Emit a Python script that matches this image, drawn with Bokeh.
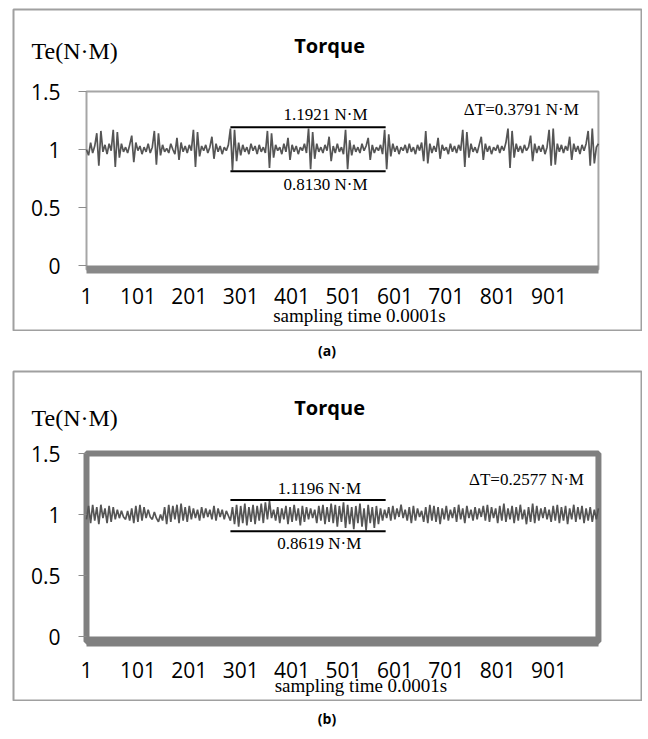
import numpy as np
from bokeh.plotting import figure
from bokeh.models import Range1d, FixedTicker, Label, Div, BoxAnnotation
from bokeh.layouts import column
from bokeh.embed import file_html
from bokeh.resources import INLINE

# ---------------- data ----------------
x_ticks = [1, 101, 201, 301, 401, 501, 601, 701, 801, 901]
x_tick_labels = ["1", "101", "201", "301", "401", "501", "601", "701", "801", "901"]
y_ticks = [0, 0.5, 1, 1.5]
y_tick_labels = ["0", "0.5", "1", "1.5"]
sample_step = 4  # one value read every 4 samples
x_first, x_last = 1, 997
y_top = 1.5

torque_a = [
    1.00, 0.95, 1.06, 0.97, 1.03, 1.14, 0.86, 1.16, 0.98, 1.04,
    0.96, 1.05, 0.99, 1.17, 0.85, 1.15, 0.93, 1.05, 0.98, 1.02,
    0.97, 1.04, 1.12, 0.89, 1.06, 0.99, 1.03, 0.96, 1.02, 0.98,
    1.05, 0.97, 1.02, 1.16, 0.87, 1.14, 0.95, 1.04, 0.98, 1.01,
    0.97, 1.05, 1.00, 0.96, 1.10, 0.91, 1.06, 0.98, 1.03, 0.97,
    1.04, 0.99, 1.17, 0.85, 1.15, 0.94, 1.03, 0.99, 1.04, 0.97,
    1.02, 1.11, 0.92, 1.05, 0.98, 1.03, 0.96, 1.02, 0.99, 1.04,
    1.18, 0.82, 1.17, 0.90, 1.06, 0.95, 1.04, 0.98, 1.02, 0.96,
    1.05, 0.99, 1.03, 0.96, 1.04, 0.98, 1.02, 0.97, 1.16, 0.84,
    1.14, 0.93, 1.04, 0.99, 1.02, 0.96, 1.05, 0.98, 1.10, 0.91,
    1.04, 0.98, 1.03, 0.96, 1.02, 0.99, 1.05, 0.97, 1.18, 0.83,
    1.15, 0.92, 1.05, 0.98, 1.02, 0.97, 1.04, 0.99, 1.11, 0.90,
    1.03, 0.97, 1.05, 0.98, 1.02, 0.96, 1.17, 0.83, 1.08, 0.95,
    1.04, 0.98, 1.02, 0.97, 1.05, 0.99, 1.03, 1.10, 0.91, 1.04,
    0.97, 1.02, 0.99, 1.04, 0.96, 1.17, 0.83, 1.13, 0.94, 1.05,
    0.98, 1.03, 0.96, 1.02, 0.99, 1.04, 0.97, 1.05, 0.98, 1.02,
    0.96, 1.04, 0.99, 1.06, 0.90, 1.16, 0.88, 1.05, 0.97, 1.03,
    0.98, 1.10, 0.92, 1.04, 0.99, 1.02, 0.96, 1.05, 0.98, 1.03,
    0.97, 1.04, 0.99, 1.17, 0.85, 1.15, 0.93, 1.05, 0.98, 1.02,
    0.97, 1.04, 1.11, 0.91, 1.05, 0.98, 1.03, 0.96, 1.02, 0.99,
    1.04, 0.97, 1.03, 0.99, 1.06, 1.18, 0.84, 1.16, 0.93, 1.05,
    0.98, 1.03, 0.97, 1.04, 0.99, 1.02, 1.12, 0.90, 1.05, 0.97,
    1.03, 0.98, 1.04, 0.96, 1.02, 1.17, 0.86, 1.18, 0.87, 1.05,
    0.98, 1.04, 0.97, 1.03, 0.99, 1.11, 0.91, 1.05, 0.98, 1.03,
    0.96, 1.04, 0.99, 1.05, 1.16, 0.86, 1.18, 0.88, 1.02, 1.05,
]

torque_b = [
    0.96, 1.07, 0.93, 1.08, 0.95, 1.06, 0.92, 1.08, 0.97, 1.05,
    0.93, 1.07, 0.94, 1.06, 0.96, 1.04, 0.97, 1.03, 0.98, 0.96,
    1.03, 0.95, 1.05, 0.93, 1.07, 0.94, 1.08, 0.95, 1.06, 0.97,
    1.04, 0.98, 0.96, 1.02, 0.97, 0.94, 1.00, 0.95, 1.06, 0.92,
    1.08, 0.94, 1.07, 0.96, 1.08, 0.93, 1.09, 0.95, 1.06, 0.94,
    1.07, 0.96, 1.05, 0.97, 1.04, 0.95, 1.06, 0.97, 1.05, 0.98,
    1.04, 0.96, 1.07, 0.95, 1.05, 0.98, 1.04, 0.96, 1.03, 0.99,
    0.95, 1.06, 0.92, 1.08, 0.90, 1.07, 0.93, 1.09, 0.91, 1.06,
    0.94, 1.08, 0.92, 1.07, 0.95, 1.09, 0.93, 1.10, 0.96, 1.11,
    0.97, 1.04, 0.95, 1.06, 0.93, 1.05, 0.96, 1.07, 0.92, 1.06,
    0.94, 1.08, 0.95, 1.05, 0.91, 1.07, 0.94, 1.06, 0.96, 1.05,
    0.97, 1.04, 0.93, 1.07, 0.95, 1.08, 0.92, 1.06, 0.94, 1.09,
    0.93, 1.08, 0.90, 1.07, 0.94, 1.10, 0.89, 1.08, 0.92, 1.06,
    0.88, 1.07, 0.93, 1.09, 0.90, 1.05, 0.87, 1.08, 0.93, 1.06,
    0.89, 1.07, 0.92, 1.05, 0.95, 1.04, 0.97, 1.06, 0.95, 1.07,
    0.96, 1.05, 0.98, 1.08, 0.97, 1.04, 0.95, 1.06, 0.93, 1.07,
    0.95, 1.05, 0.98, 1.03, 0.94, 1.06, 0.93, 1.08, 0.95, 1.07,
    0.94, 1.06, 0.92, 1.05, 0.96, 1.07, 0.95, 1.04, 0.97, 1.06,
    0.94, 1.08, 0.96, 1.05, 0.93, 1.07, 0.97, 1.04, 0.95, 1.06,
    0.96, 1.05, 0.98, 1.07, 0.95, 1.08, 0.94, 1.06, 0.97, 1.05,
    0.93, 1.07, 0.95, 1.09, 0.94, 1.05, 0.96, 1.07, 0.93, 1.06,
    0.95, 1.08, 0.96, 1.04, 0.92, 1.06, 0.94, 1.09, 0.93, 1.07,
    0.95, 1.05, 0.97, 1.06, 0.96, 1.04, 0.94, 1.07, 0.95, 1.08,
    0.93, 1.06, 0.95, 1.07, 0.92, 1.05, 0.96, 1.08, 0.94, 1.06,
    0.96, 1.07, 0.93, 1.05, 0.95, 1.06, 0.94, 1.04, 0.96, 1.05,
]

peak_a = [1.1921, 0.8130]
peak_b = [1.1196, 0.8619]
delta_a = 0.3791
delta_b = 0.2577
window = [281, 583]  # sample span of the marked interval

# ---------------- styling ----------------
SERIF = "Liberation Serif"
SANS = "Open Sans"
LINE_COLOR = "#555555"
FIG_W = 630
PX_PER_SAMPLE = 0.514
PLOT_LEFT_OFF = 73    # px from frame left to plot-area left


def make_panel(torque, peaks, delta, height, px_per_unit, zero_from_top, band,
               box_w, box_c, axis_w, axis_c, x_standoff, pos, margin):
    # the frame covers the whole panel; the plot area is drawn inside it
    fh = height - 2
    fw = FIG_W - 2
    x0 = x_first - PLOT_LEFT_OFF / PX_PER_SAMPLE
    x1 = x0 + fw / PX_PER_SAMPLE
    y1 = (zero_from_top - 1) / px_per_unit
    y0 = y1 - fh / px_per_unit

    x = np.arange(len(torque)) * sample_step + 1
    p = figure(width=FIG_W, height=height, output_backend="svg", toolbar_location=None,
               x_range=Range1d(x0, x1), y_range=Range1d(y0, y1),
               min_border=1, min_border_left=1, min_border_right=1,
               min_border_top=1, min_border_bottom=1,
               background_fill_color="white", border_fill_color="white")
    p.margin = margin
    p.grid.visible = False
    p.outline_line_color = "#a0a0a0"
    p.outline_line_width = 2

    p.xaxis.fixed_location = band
    p.xaxis.bounds = (x_first, x_last)
    p.xaxis.ticker = FixedTicker(ticks=x_ticks)
    p.xaxis.major_label_overrides = dict(zip(x_ticks, x_tick_labels))
    p.xaxis.major_tick_line_color = None
    p.xaxis.minor_tick_line_color = None
    p.xaxis.axis_line_width = axis_w
    p.xaxis.axis_line_color = axis_c
    p.xaxis.major_label_standoff = x_standoff
    p.xaxis.major_label_text_font = SANS
    p.xaxis.major_label_text_font_size = "21px"
    p.xaxis.major_label_text_color = "black"

    p.yaxis.fixed_location = x_first
    p.yaxis.bounds = (0, y_top)
    p.yaxis.ticker = FixedTicker(ticks=y_ticks)
    p.yaxis.major_label_overrides = dict(zip(y_ticks, y_tick_labels))
    p.yaxis.axis_line_color = None
    p.yaxis.minor_tick_line_color = None
    p.yaxis.major_tick_out = 8
    p.yaxis.major_tick_in = 0
    p.yaxis.major_tick_line_color = "#8c8c8c"
    p.yaxis.major_label_standoff = 18
    p.yaxis.major_label_text_font = SANS
    p.yaxis.major_label_text_font_size = "21px"
    p.yaxis.major_label_text_color = "black"

    # plot-area border, drawn beneath the series and the axis band
    p.add_layout(BoxAnnotation(left=x_first, right=x_last, bottom=band, top=y_top,
                               fill_color=None, line_color=box_c, line_width=box_w,
                               line_alpha=1.0, level="underlay"))

    p.line(x, torque, line_color=LINE_COLOR, line_width=1.7)
    p.segment(x0=[window[0]] * 2, x1=[window[1]] * 2, y0=peaks, y1=peaks,
              line_color="black", line_width=2)

    def lab(txt, lx, ly, font, size, align="center", style="normal"):
        p.add_layout(Label(x=lx, y=ly, text=txt, text_font=font, text_font_size=size,
                           text_align=align, text_baseline="middle",
                           text_font_style=style, text_color="black"))

    lab("Te(N\u00b7M)", -106, pos["te"], SERIF, "24px", align="left")
    lab("Torque", 474, pos["title"], SANS, "20px", style="bold")
    lab("sampling time 0.0001s", pos["sx"], pos["sy"], SERIF, "19px")
    lab(f"{peaks[0]:.4f} N\u00b7M", pos["px"], pos["hi"], SERIF, "17px")
    lab(f"{peaks[1]:.4f} N\u00b7M", pos["px"], pos["lo"], SERIF, "17px")
    lab(f"\u0394T={delta:.4f} N\u00b7M", pos["dx"], pos["dy"], SERIF, "17px")
    return p


pa = make_panel(torque_a, peak_a, delta_a, 323, 116, 257, -0.035, 2, "#a6a6a6", 8, "#888888", 12,
                dict(te=1.853, title=1.897, sx=532, sy=-0.43, px=466, hi=1.30, lo=0.70,
                     dx=847, dy=1.345), (8, 0, 0, 12))
pb = make_panel(torque_b, peak_b, delta_b, 331, 122, 266, -0.041, 6, "#808080", 10, "#808080", 14,
                dict(te=1.795, title=1.877, sx=535, sy=-0.40, px=454, hi=1.21, lo=0.76,
                     dx=857, dy=1.29), (0, 0, 0, 12))

cap_style = {"text-align": "center", "font-family": "Open Sans", "font-size": "14px",
             "font-weight": "bold", "color": "black"}
da = Div(text="(a)", width=FIG_W, height=39, margin=(0, 0, 0, 12),
         styles=dict(cap_style, **{"line-height": "39px"}))
db = Div(text="(b)", width=FIG_W, height=28, margin=(0, 0, 0, 12),
         styles=dict(cap_style, **{"line-height": "36px"}))

layout = column(pa, da, pb, db, spacing=0)
open("out.html", "w").write(file_html(layout, INLINE))
